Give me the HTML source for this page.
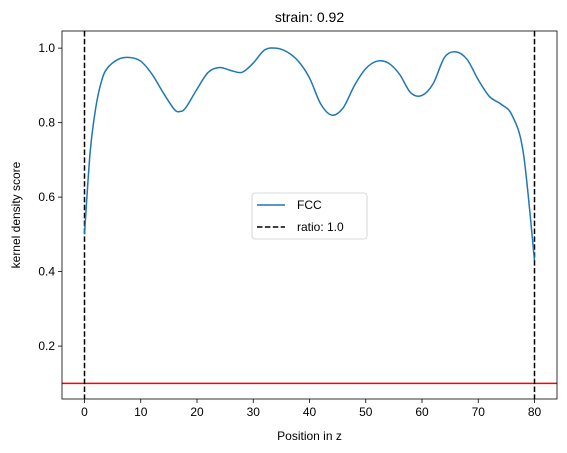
<!DOCTYPE html>
<html><head><meta charset="utf-8">
<style>
body{margin:0;background:#fff;}
svg{display:block;font-family:"Liberation Sans","DejaVu Sans",sans-serif;}
</style></head>
<body>
<svg id="chart" width="567" height="453" viewBox="0 0 567 453"></svg>
<script>
const xs = [0,1,2,3,4,6,8,10,12,14,16,17,18,20,22,24,26,28,30,32,34,36,38,40,42,44,46,48,50,52,54,56,58,60,62,64,66,68,70,72,74,76,78,80];
const fcc = [0.5,0.72,0.84,0.91,0.945,0.97,0.975,0.965,0.93,0.88,0.835,0.83,0.84,0.89,0.935,0.948,0.94,0.935,0.96,0.995,1.0,0.99,0.965,0.92,0.85,0.82,0.84,0.9,0.945,0.965,0.96,0.93,0.88,0.873,0.905,0.975,0.99,0.97,0.915,0.87,0.85,0.82,0.72,0.43];
const xTicks = [0,10,20,30,40,50,60,70,80];
const yTicks = [0.2,0.4,0.6,0.8,1.0];
const ratioLines = [0,80];
const threshold = 0.1;

const L=62,R=557,T=31,B=399;
const xMin=-4,xMax=84,yMin=0.058,yMax=1.046;
const sx=v=>L+(v-xMin)/(xMax-xMin)*(R-L);
const sy=v=>B-(v-yMin)/(yMax-yMin)*(B-T);
const svg=document.getElementById('chart');
const NS='http://www.w3.org/2000/svg';
function mk(tag,attrs,parent){const e=document.createElementNS(NS,tag);for(const k in attrs)e.setAttribute(k,attrs[k]);(parent||svg).appendChild(e);return e;}

// title
let t=mk('text',{x:(L+R)/2,y:22,'text-anchor':'middle','font-size':14,fill:'#000'});t.textContent='strain: 0.92';



// ticks
xTicks.forEach(v=>{
  const g=mk('g',{});
  
  
  mk('line',{x1:sx(v),x2:sx(v),y1:B,y2:B+4,stroke:'#000','stroke-width':0.8},g);
  const tx=mk('text',{x:sx(v),y:B+17,'text-anchor':'middle','font-size':12},g);tx.textContent=v;
});
yTicks.forEach(v=>{
  const g=mk('g',{});
  
  
  mk('line',{x1:L-4,x2:L,y1:sy(v),y2:sy(v),stroke:'#000','stroke-width':0.8},g);
  const tx=mk('text',{x:L-7,y:sy(v)+4,'text-anchor':'end','font-size':12},g);tx.textContent=v.toFixed(1);
});
let xl=mk('text',{x:(L+R)/2,y:440,'text-anchor':'middle','font-size':12});xl.textContent='Position in z';


let yl=mk('text',{x:0,y:0,'text-anchor':'middle','font-size':12,transform:`translate(20,${(T+B)/2}) rotate(-90)`});yl.textContent='kernel density score';



// threshold
let th=mk('line',{x1:L,x2:R,y1:sy(threshold),y2:sy(threshold),stroke:'#ff0000','stroke-width':1.5});



// ratio lines
ratioLines.forEach(v=>{
  const l=mk('line',{x1:sx(v),x2:sx(v),y1:T,y2:B,stroke:'#000','stroke-width':1.5,'stroke-dasharray':'5.5,2.4'});
  
  
});

// curve (Catmull-Rom)
const P=xs.map((x,i)=>[sx(x),sy(fcc[i])]);
let d=`M${P[0][0]},${P[0][1]}`;
for(let i=0;i<P.length-1;i++){
  const p0=P[Math.max(0,i-1)],p1=P[i],p2=P[i+1],p3=P[Math.min(P.length-1,i+2)];
  const c1=[p1[0]+(p2[0]-p0[0])/6,p1[1]+(p2[1]-p0[1])/6];
  const c2=[p2[0]-(p3[0]-p1[0])/6,p2[1]-(p3[1]-p1[1])/6];
  d+=`C${c1[0]},${c1[1]} ${c2[0]},${c2[1]} ${p2[0]},${p2[1]}`;
}
let cv=mk('path',{d:d,fill:'none',stroke:'#1f77b4','stroke-width':1.5});



// frame
let fr=mk('rect',{x:L,y:T,width:R-L,height:B-T,fill:'none',stroke:'#000','stroke-width':0.8});



// legend
const lg=mk('g',{});


mk('rect',{x:252,y:193,width:115,height:46,rx:3,fill:'#fff','fill-opacity':0.8,stroke:'#ccc','stroke-width':0.8},lg);
mk('line',{x1:257,x2:285,y1:205,y2:205,stroke:'#1f77b4','stroke-width':1.5},lg);
let l1=mk('text',{x:297,y:209,'font-size':12},lg);l1.textContent='FCC';
mk('line',{x1:257,x2:285,y1:227,y2:227,stroke:'#000','stroke-width':1.5,'stroke-dasharray':'5.5,2.4'},lg);
let l2=mk('text',{x:297,y:231,'font-size':12},lg);l2.textContent='ratio: 1.0';
</script>
</body></html>
